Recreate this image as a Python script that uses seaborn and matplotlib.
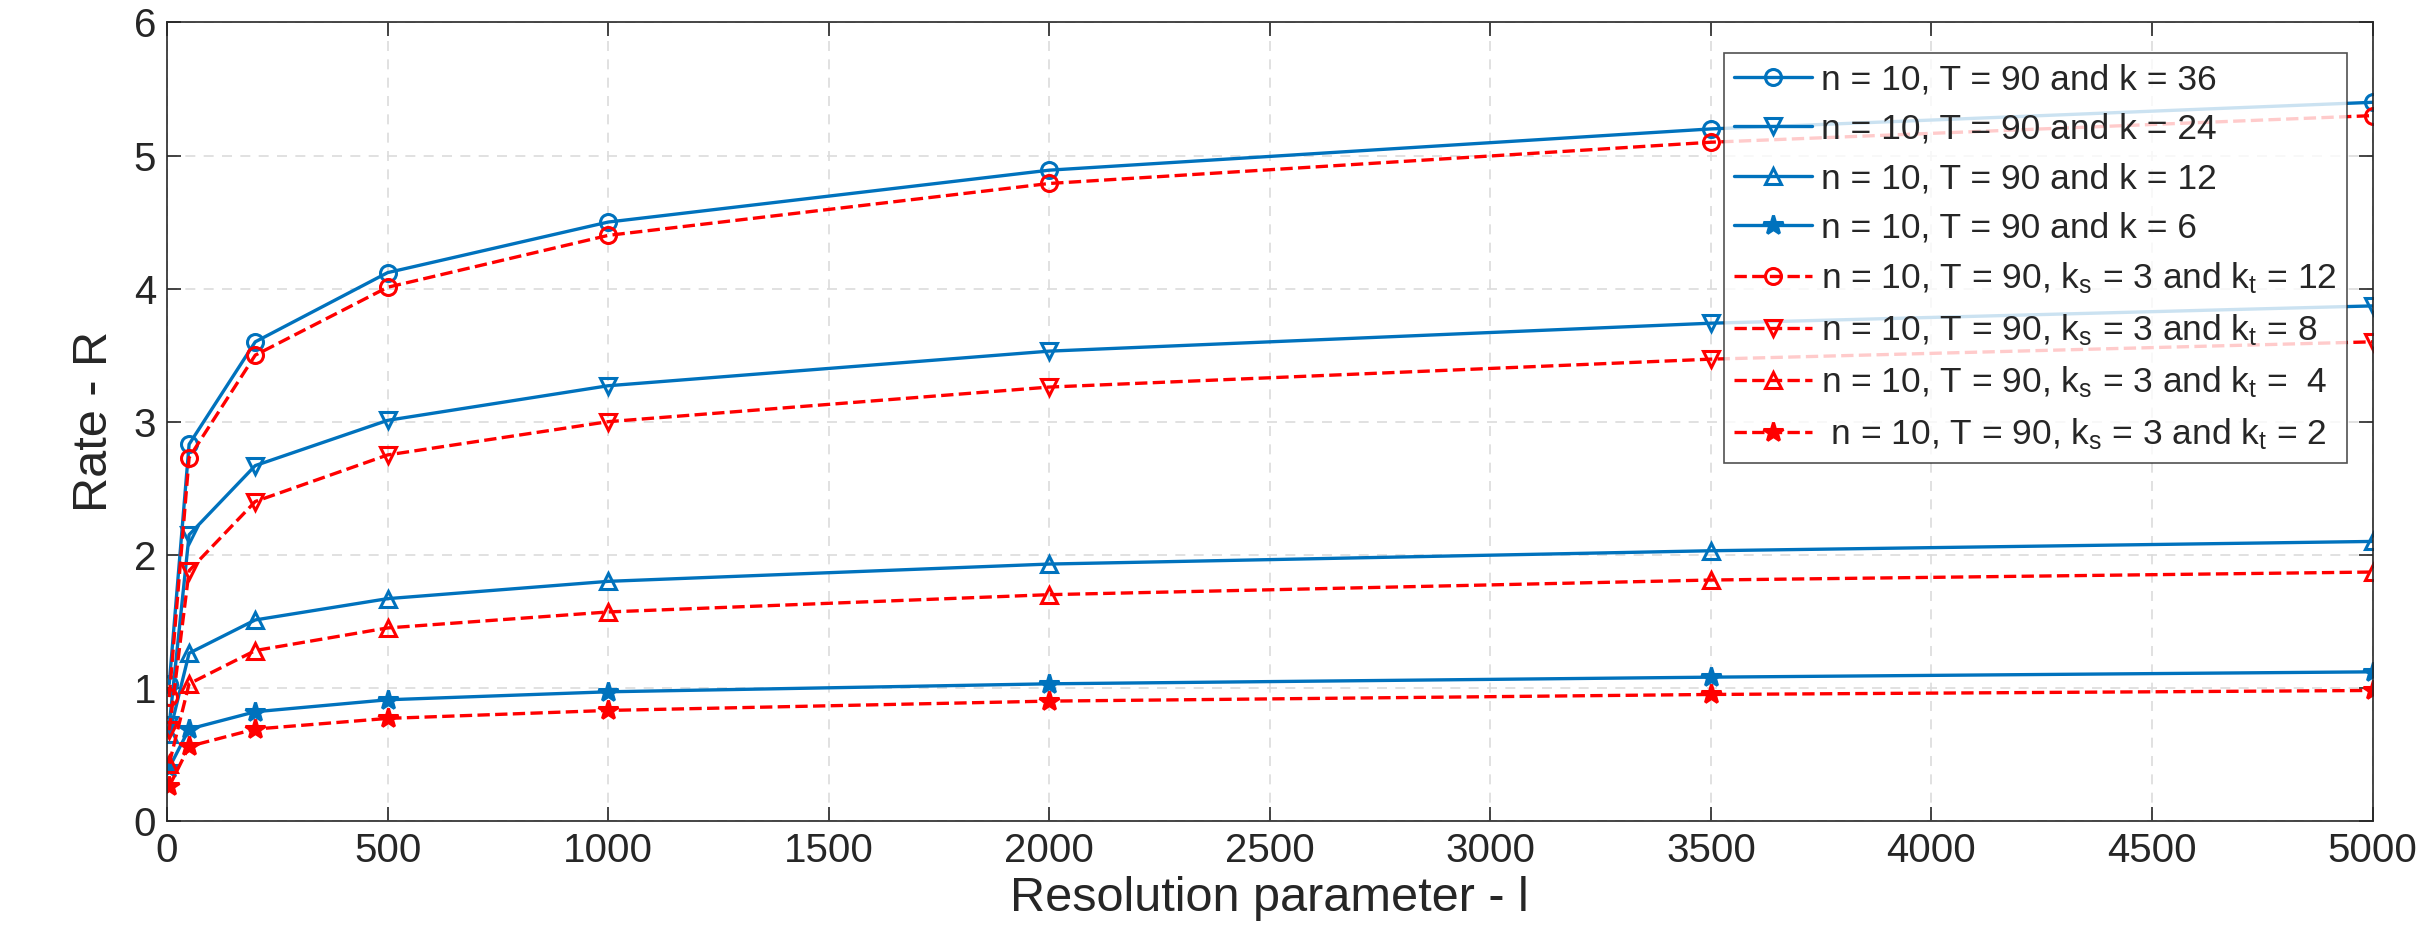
import numpy as np
import pandas as pd
import seaborn as sns
import matplotlib.pyplot as plt

resolution = [5, 50, 200, 500, 1000, 2000, 3500, 5000]

rate_k36 = [1.03, 2.83, 3.60, 4.12, 4.50, 4.89, 5.20, 5.40]
rate_k24 = [0.72, 2.15, 2.67, 3.01, 3.27, 3.53, 3.74, 3.87]
rate_k12 = [0.65, 1.26, 1.51, 1.67, 1.80, 1.93, 2.03, 2.10]
rate_k6 = [0.40, 0.69, 0.82, 0.91, 0.97, 1.03, 1.08, 1.12]
rate_kt12 = [0.93, 2.73, 3.50, 4.01, 4.40, 4.79, 5.10, 5.30]
rate_kt8 = [0.68, 1.88, 2.40, 2.75, 3.00, 3.26, 3.47, 3.60]
rate_kt4 = [0.43, 1.03, 1.28, 1.45, 1.57, 1.70, 1.81, 1.87]
rate_kt2 = [0.26, 0.56, 0.69, 0.77, 0.83, 0.90, 0.95, 0.98]

labels = [
    "n = 10, T = 90 and k = 36",
    "n = 10, T = 90 and k = 24",
    "n = 10, T = 90 and k = 12",
    "n = 10, T = 90 and k = 6",
    "n = 10, T = 90, k$_s$ = 3 and k$_t$ = 12",
    "n = 10, T = 90, k$_s$ = 3 and k$_t$ = 8",
    "n = 10, T = 90, k$_s$ = 3 and k$_t$ =  4",
    " n = 10, T = 90, k$_s$ = 3 and k$_t$ = 2",
]
series = [rate_k36, rate_k24, rate_k12, rate_k6, rate_kt12, rate_kt8, rate_kt4, rate_kt2]
markers = ["o", "v", "^", "*", "o", "v", "^", "*"]

sns.set_style("ticks")
plt.rcParams['font.family'] = ['Liberation Sans', 'DejaVu Sans']
plt.rcParams['mathtext.fontset'] = 'custom'
plt.rcParams['mathtext.rm'] = 'Liberation Sans'
plt.rcParams['mathtext.default'] = 'regular'

blue = "#0072BD"
red = "#FF0000"

fig, ax = plt.subplots(figsize=(24.21, 9.36), dpi=100)

for i, (vals, lab, mk) in enumerate(zip(series, labels, markers)):
    col = blue if i < 4 else red
    ls = "-" if i < 4 else "--"
    df = pd.DataFrame({"l": resolution, "R": vals})
    filled = mk == "*"
    sns.lineplot(data=df, x="l", y="R", ax=ax, color=col, linestyle=ls, linewidth=2.4,
                 marker=mk, markersize=15 if filled else 11.5,
                 markerfacecolor=col if filled else "none",
                 markeredgecolor=col, markeredgewidth=2.2, label=lab)

ax.set_xlim(0, 5000)
ax.set_ylim(0, 6)
ax.set_xticks(np.arange(0, 5001, 500))
ax.set_yticks(np.arange(0, 7, 1))
ax.grid(True, linestyle=(0, (6, 5)), color="#dcdcdc", linewidth=1.2)
ax.tick_params(direction="in", length=10, labelsize=29, colors="#262626", width=1.2,
               top=True, right=True, pad=8)
for s in ax.spines.values():
    s.set_color("#262626")
    s.set_linewidth(1.2)
ax.set_xlabel("Resolution parameter - l", fontsize=35, color="#262626", labelpad=4)
ax.set_ylabel("Rate - R", fontsize=35, color="#262626", labelpad=12)

leg = ax.legend(loc="upper right", bbox_to_anchor=(0.9885, 0.962), fontsize=25.5,
                frameon=True, fancybox=False, edgecolor="#262626", handlelength=2.2,
                labelspacing=0.46, borderpad=0.3, handletextpad=0.25, borderaxespad=0)
leg.get_frame().set_linewidth(1.2)

plt.subplots_adjust(left=0.069, right=0.98, top=0.976, bottom=0.123)
plt.savefig("out.png", dpi=100)
